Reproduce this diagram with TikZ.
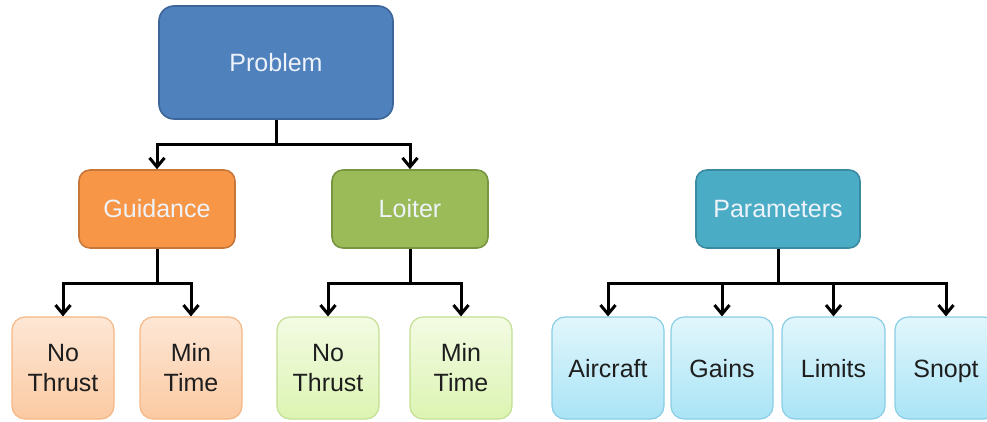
\documentclass[tikz,border=0pt]{standalone}
\usepackage{fontspec}
\setmainfont{Liberation Sans}
\usetikzlibrary{arrows.meta}

\definecolor{probfill}{HTML}{4F81BD}
\definecolor{probline}{HTML}{3C6699}
\definecolor{guidfill}{HTML}{F79646}
\definecolor{guidline}{HTML}{C8773A}
\definecolor{loitfill}{HTML}{9BBB59}
\definecolor{loitline}{HTML}{789641}
\definecolor{parfill}{HTML}{4BACC6}
\definecolor{parline}{HTML}{3A8AA2}
\definecolor{orgtop}{HTML}{FDE7D6}
\definecolor{orgbot}{HTML}{FBCAA2}
\definecolor{orgline}{HTML}{F5B784}
\definecolor{grntop}{HTML}{F3FBE3}
\definecolor{grnbot}{HTML}{DCF4B2}
\definecolor{grnline}{HTML}{C3DF94}
\definecolor{blutop}{HTML}{E2F6FC}
\definecolor{blubot}{HTML}{A9E4F6}
\definecolor{bluline}{HTML}{88CDE5}
\definecolor{headtext}{HTML}{EEF3FA}
\definecolor{leaftext}{HTML}{1E1E1E}

\tikzset{
  headbox/.style={draw, line width=1.6pt, rounded corners=11pt,
    text=headtext, font=\fontsize{25}{30}\selectfont,
    minimum width=156pt, minimum height=78pt, inner sep=0pt},
  leafbox/.style={draw, line width=1.2pt, rounded corners=13pt,
    text=leaftext, font=\fontsize{25}{30}\selectfont, align=center,
    minimum width=102pt, minimum height=102pt, inner sep=0pt},
  oneline/.style={text height=18pt, text depth=0pt},
  orgleaf/.style={leafbox, draw=orgline, top color=orgtop, bottom color=orgbot},
  grnleaf/.style={leafbox, draw=grnline, top color=grntop, bottom color=grnbot},
  bluleaf/.style={leafbox, oneline, draw=bluline, top color=blutop, bottom color=blubot},
  link/.style={draw=black, line width=3pt},
  linkarrow/.style={link, -{Straight Barb[length=9pt,width=15pt,line width=3pt]}}
}

\begin{document}
\begin{tikzpicture}[x=1pt, y=-1pt]
\useasboundingbox (0,0) rectangle (987,421);

% top level
\node[headbox, fill=probfill, draw=probline, rounded corners=15pt,
      minimum width=234pt, minimum height=113pt] (prob) at (276,62.5) {Problem};

% second level
\node[headbox, fill=guidfill, draw=guidline] (guid) at (157,209) {Guidance};
\node[headbox, fill=loitfill, draw=loitline] (loit) at (410,209) {Loiter};
\node[headbox, fill=parfill, draw=parline, minimum width=164pt] (par) at (778,209) {Parameters};

% leaves
\node[orgleaf] (gnt) at (63,368)  {No\\Thrust};
\node[orgleaf] (gmt) at (191,368) {Min\\Time};
\node[grnleaf] (lnt) at (328,368) {No\\Thrust};
\node[grnleaf] (lmt) at (461,368) {Min\\Time};
\node[bluleaf, minimum width=112pt] (air) at (608,368) {Aircraft};
\node[bluleaf] (gain) at (722,368) {Gains};
\node[bluleaf, minimum width=103pt] (lim) at (833.5,368) {Limits};
\node[bluleaf] (snp) at (946,368) {Snopt};

% branch points
\coordinate (pj) at (276,144);
\coordinate (gj) at (157,283);
\coordinate (lj) at (410,283);
\coordinate (aj) at (778,283);

% connectors
\draw[link] (prob.south) -- (pj);
\draw[linkarrow] (pj) -| (guid.north);
\draw[linkarrow] (pj) -| (loit.north);

\draw[link] (guid.south) -- (gj);
\draw[linkarrow] (gj) -| (gnt.north);
\draw[linkarrow] (gj) -| (gmt.north);

\draw[link] (loit.south) -- (lj);
\draw[linkarrow] (lj) -| (lnt.north);
\draw[linkarrow] (lj) -| (lmt.north);

\draw[link] (par.south) -- (aj);
\draw[linkarrow] (aj) -| (air.north);
\draw[linkarrow] (aj) -| (gain.north);
\draw[linkarrow] (aj) -| (lim.north);
\draw[linkarrow] (aj) -| (snp.north);
\end{tikzpicture}
\end{document}
